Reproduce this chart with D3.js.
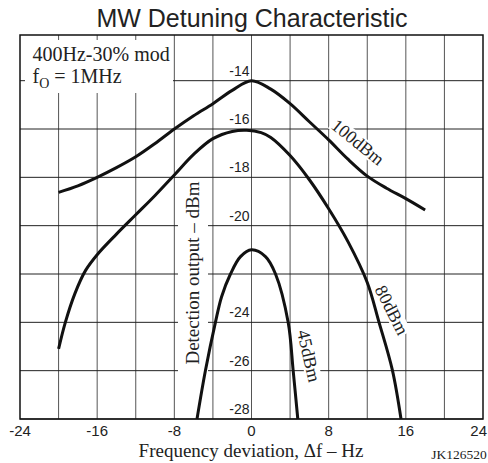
<!DOCTYPE html>
<html>
<head>
<meta charset="utf-8">
<script src="https://cdn.jsdelivr.net/npm/d3@7"></script>
<style>
  html, body { margin: 0; padding: 0; background: #fff; }
  svg { display: block; }
</style>
</head>
<body>
<svg id="chart" width="488" height="463"></svg>
<script>
// ---- data ----
const freq100 = [-20, -18, -16, -14, -12, -10, -8, -6, -4, -2, 0, 2, 4, 6, 8, 10, 12, 14, 16, 18];
const out100  = [-18.62, -18.35, -18.0, -17.6, -17.15, -16.6, -16.0, -15.45, -14.95, -14.4, -14.0, -14.35, -14.95, -15.7, -16.45, -17.25, -17.95, -18.45, -18.88, -19.35];

const freq80 = [-20, -19.3, -18.3, -17.2, -16, -14, -12, -10, -8, -6, -4, -2, -0.5, 1, 2, 4, 6, 8, 10, 12, 13.2, 14.6, 15.5];
const out80  = [-25.1, -24.0, -22.8, -21.85, -21.2, -20.35, -19.55, -18.75, -17.9, -17.05, -16.4, -16.1, -16.05, -16.15, -16.35, -17.1, -18.1, -19.3, -20.66, -22.35, -23.97, -25.97, -28.0];

const freq45 = [-5.65, -4.78, -3.74, -3.1, -2.18, -1.14, 0, 1.45, 2.49, 3.8, 4.32, 4.8];
const out45  = [-28.0, -26.0, -24.0, -22.94, -22.0, -21.28, -21.0, -21.28, -22.0, -24.0, -26.0, -28.0];

const seriesNames = ["100dBm", "80dBm", "45dBm"];
const xTickLabels = [-24, -16, -8, 0, 8, 16, 24];
const xGridValues = [-20, -16, -12, -8, -4, 0, 4, 8, 12, 16, 20];
const yGridValues = [-28, -26, -24, -22, -20, -18, -16, -14];
const yTickLabels = [-14, -16, -18, -20, -24, -26, -28];

const titleText = "MW Detuning Characteristic";
const xTitleText = "Frequency deviation, \u0394f \u2013 Hz";
const yTitleText = "Detection output \u2013 dBm";
const noteLine1 = "400Hz-30% mod";
const codeText = "JK126520";

// ---- layout ----
const W = 488;
const svg = d3.select("#chart");
const X0 = 20, X1 = 483, Y0 = 419, Y1 = 35;
const x = d3.scaleLinear().domain([-24, 24]).range([X0, X1]);
const y = d3.scaleLinear().domain([-28, -12.11]).range([Y0, Y1]);

const sans = "'Liberation Sans', Arial, Helvetica, sans-serif";
const serif = "'Liberation Serif', 'Times New Roman', Times, serif";

svg.append("rect").attr("width", 488).attr("height", 463).attr("fill", "#fff");

// title
svg.append("text").attr("x", 252).attr("y", 27).attr("text-anchor", "middle")
  .attr("font-family", sans).attr("font-size", 25).attr("fill", "#222").text(titleText);

// gridlines
const grid = svg.append("g");
grid.selectAll("line.v").data(xGridValues).join("line").attr("class", "v")
  .attr("x1", d => x(d)).attr("x2", d => x(d)).attr("y1", Y1).attr("y2", Y0)
  .attr("stroke", "#555").attr("stroke-width", 1);
grid.selectAll("line.h").data(yGridValues).join("line").attr("class", "h")
  .attr("x1", X0).attr("x2", X1).attr("y1", d => y(d)).attr("y2", d => y(d))
  .attr("stroke", "#222").attr("stroke-width", 1);

// note box (covers gridlines)
svg.append("rect").attr("x", 25).attr("y", 40).attr("width", 148).attr("height", 53).attr("fill", "#fff");
svg.append("text").attr("x", 32.5).attr("y", 61).attr("font-family", serif).attr("font-size", 20)
  .attr("fill", "#222").text(noteLine1);
const n2 = svg.append("text").attr("x", 32.5).attr("y", 82.7).attr("font-family", serif)
  .attr("font-size", 20).attr("fill", "#222");
n2.append("tspan").text("f");
n2.append("tspan").attr("font-size", 14).attr("dy", 5).text("O");
n2.append("tspan").attr("font-size", 20).attr("dy", -5).text(" = 1MHz");

// y axis title box
svg.append("rect").attr("x", 178).attr("y", 178).attr("width", 30).attr("height", 198).attr("fill", "#fff");
svg.append("text").attr("transform", "translate(199,273) rotate(-90)").attr("text-anchor", "middle")
  .attr("font-family", serif).attr("font-size", 19).attr("fill", "#222").text(yTitleText);

// y tick labels (placed at f = 0)
svg.selectAll("text.yt").data(yTickLabels).join("text").attr("class", "yt")
  .attr("x", x(0) - 2).attr("y", d => y(d) - 5).attr("text-anchor", "end")
  .attr("font-family", sans).attr("font-size", 14).attr("fill", "#222").text(d => d);

// curves
const line = d3.line().x(d => x(d[0])).y(d => y(d[1])).curve(d3.curveCatmullRom.alpha(0.5));
const curves = [
  d3.zip(freq100, out100),
  d3.zip(freq80, out80),
  d3.zip(freq45, out45)
];
svg.selectAll("path.curve").data(curves).join("path").attr("class", "curve")
  .attr("d", line).attr("fill", "none").attr("stroke", "#111").attr("stroke-width", 3)
  .attr("stroke-linejoin", "round").attr("stroke-linecap", "butt");

// curve labels with white backgrounds
const labelPos = [
  {cx: 358, cy: 142, rot: 39},
  {cx: 392, cy: 310, rot: 63},
  {cx: 309, cy: 356, rot: 77}
];
seriesNames.forEach((name, i) => {
  const p = labelPos[i];
  const g = svg.append("g").attr("transform", `translate(${p.cx},${p.cy}) rotate(${p.rot})`);
  const bg = g.append("rect").attr("fill", "#fff");
  const t = g.append("text").attr("text-anchor", "middle").attr("dy", "0.35em")
    .attr("font-family", serif).attr("font-size", 18).attr("fill", "#222").text(name);
  const bb = t.node().getBBox();
  bg.attr("x", bb.x - 1).attr("y", bb.y + 2).attr("width", bb.width + 2).attr("height", bb.height - 4);
});

// frame
svg.append("rect").attr("x", X0).attr("y", Y1).attr("width", X1 - X0).attr("height", Y0 - Y1)
  .attr("fill", "none").attr("stroke", "#111").attr("stroke-width", 1.5);

// x tick labels (kept inside the picture)
svg.selectAll("text.xt").data(xTickLabels).join("text").attr("class", "xt")
  .attr("y", 436).attr("text-anchor", "middle")
  .attr("font-family", sans).attr("font-size", 15).attr("fill", "#222").text(d => d)
  .each(function(d) {
    const half = this.getComputedTextLength() / 2;
    const cx = Math.min(Math.max(x(d), half + 4), W - half - 1);
    d3.select(this).attr("x", cx);
  });

// x title
svg.append("text").attr("x", 251).attr("y", 457).attr("text-anchor", "middle")
  .attr("font-family", serif).attr("font-size", 19).attr("fill", "#222").text(xTitleText);

svg.append("text").attr("x", 459).attr("y", 459).attr("text-anchor", "middle")
  .attr("font-family", serif).attr("font-size", 13.5).attr("fill", "#222").text(codeText);
</script>
</body>
</html>
